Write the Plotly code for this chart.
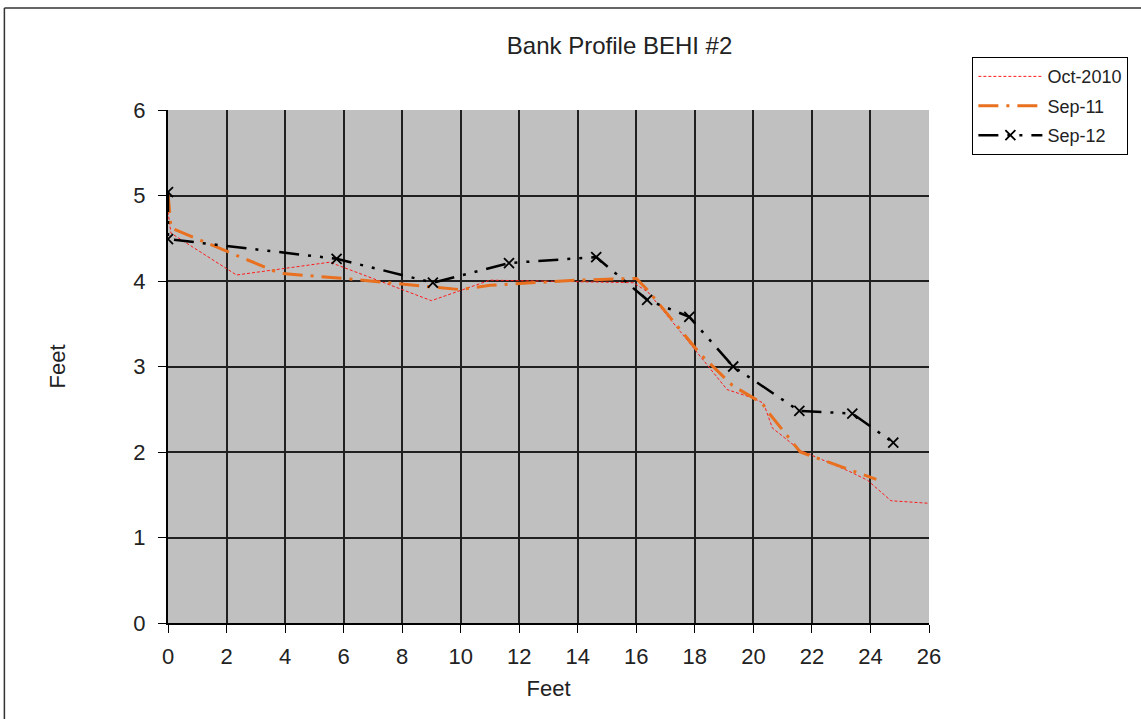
import plotly.graph_objects as go

# Bank profile survey: horizontal distance (ft) vs. elevation (ft)
oct2010_x = [0, 0.1, 2.34, 5.53, 9.0, 11.0, 15.9, 16.4, 17.5, 19.1, 20.0, 20.35, 20.65, 21.6, 23.3, 23.9, 24.7, 26.0]
oct2010_y = [4.81, 4.56, 4.07, 4.22, 3.77, 4.01, 3.98, 3.87, 3.41, 2.73, 2.63, 2.57, 2.28, 2.02, 1.77, 1.67, 1.43, 1.40]

sep11_x = [0, 0.1, 3.81, 6.0, 9.97, 11.0, 14.0, 16.0, 16.4, 18.2, 19.28, 20.0, 20.3, 20.5, 21.4, 21.6, 24.2]
sep11_y = [5.03, 4.62, 4.09, 4.03, 3.90, 3.95, 4.01, 4.03, 3.89, 3.14, 2.78, 2.63, 2.57, 2.47, 2.08, 2.00, 1.68]

sep12_x = [0, 0, 5.76, 9.05, 11.65, 14.63, 16.37, 17.81, 19.31, 21.57, 23.38, 24.78]
sep12_y = [5.04, 4.49, 4.26, 3.98, 4.21, 4.28, 3.78, 3.58, 3.00, 2.48, 2.45, 2.11]

x_ticks = list(range(0, 27, 2))
y_ticks = list(range(0, 7))

font_family = "Liberation Sans, Arial, sans-serif"

fig = go.Figure()

fig.add_trace(go.Scatter(
    x=oct2010_x, y=oct2010_y, name="Oct-2010", mode="lines", legendgroup="a",
    line=dict(color="#FF1A1A", width=1, dash="3px,2px"),
))
fig.add_trace(go.Scatter(
    x=sep11_x, y=sep11_y, name="Sep-11", mode="lines", legendgroup="b",
    line=dict(color="#E8701F", width=3, dash="20px,8px,3px,8px"),
))
fig.add_trace(go.Scatter(
    x=sep12_x, y=sep12_y, name="Sep-12", mode="lines+markers", legendgroup="c",
    line=dict(color="black", width=2.5, dash="20px,9px,3px,9px,3px,9px"),
    marker=dict(symbol="x-thin-open", size=10, color="black",
                line=dict(color="black", width=1.8)),
))

axis_common = dict(
    showgrid=True, gridcolor="#202020", gridwidth=2,
    showline=True, linecolor="black", linewidth=2,
    ticks="outside", ticklen=8, tickcolor="black", tickwidth=1,
    zeroline=False,
    tickfont=dict(family=font_family, size=22, color="#222"),
    title_font=dict(family=font_family, size=22, color="#222"),
)

fig.update_xaxes(range=[0, 26], tickvals=x_ticks, title_text="Feet",
                 title_standoff=12, ticklabelstandoff=5, **axis_common)
fig.update_yaxes(range=[0, 6], tickvals=y_ticks, title_text="Feet",
                 title_standoff=62, ticklabelstandoff=8, **axis_common)

# outer chart frame (left and top edges visible)
fig.add_shape(type="line", xref="paper", yref="paper",
              x0=-0.215, x1=1.35, y0=1.199, y1=1.199,
              line=dict(color="#333", width=1.5))
fig.add_shape(type="line", xref="paper", yref="paper",
              x0=-0.215, x1=-0.215, y0=1.199, y1=-0.3,
              line=dict(color="#333", width=1.5))

fig.update_layout(
    width=1141, height=719,
    margin=dict(l=168, r=212, t=110, b=96),
    paper_bgcolor="white", plot_bgcolor="#C0C0C0",
    title=dict(text="Bank Profile BEHI #2", x=0.543, xanchor="center",
               xref="container", y=0.937, yanchor="middle",
               font=dict(family=font_family, size=24, color="#222")),
    legend=dict(x=1.057, y=1.103, xanchor="left", yanchor="top",
                bordercolor="black", borderwidth=1, bgcolor="white",
                font=dict(family=font_family, size=18, color="#222"),
                itemwidth=64, traceorder="grouped", tracegroupgap=3),
    showlegend=True,
)

fig.write_html("out.html")
